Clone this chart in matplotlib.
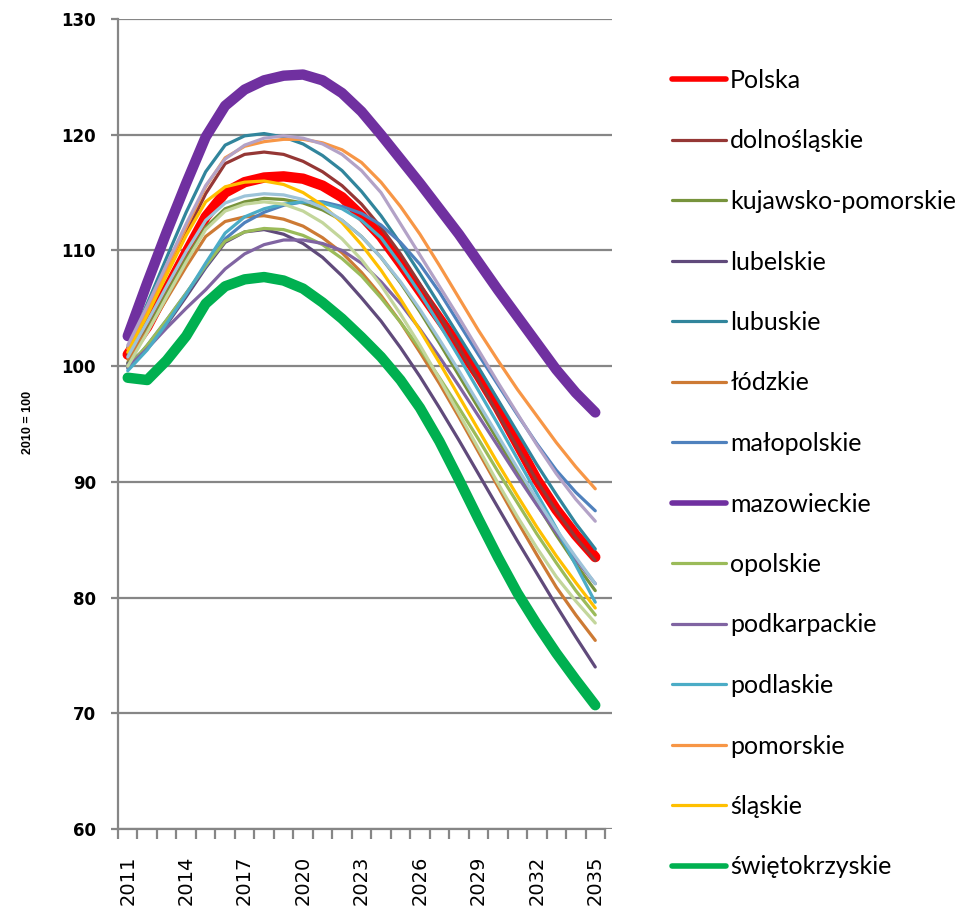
import matplotlib.pyplot as plt
from matplotlib.ticker import MultipleLocator

# lata projekcji (2010 = 100)
lata = list(range(2011, 2036))

polska = [101.0, 103.4, 106.6, 109.8, 112.9, 115.0, 115.9, 116.3, 116.4, 116.2, 115.6, 114.6, 113.0,
          111.2, 108.9, 106.5, 104.1, 101.7, 99.2, 96.4, 93.3, 90.2, 87.6, 85.4, 83.5]
dolnoslaskie = [101.0, 104.5, 108.0, 111.5, 114.9, 117.5, 118.3, 118.5, 118.3, 117.7, 116.8, 115.6, 114.0,
                112.0, 109.7, 107.1, 104.4, 101.6, 98.8, 95.9, 93.0, 90.1, 87.5, 85.2, 83.2]
kujawsko_pomorskie = [100.3, 103.2, 106.3, 109.3, 112.0, 113.6, 114.2, 114.5, 114.4, 114.1, 113.5, 112.6, 111.2,
                      109.4, 107.2, 104.7, 102.0, 99.2, 96.4, 93.6, 90.8, 88.1, 85.4, 82.9, 80.6]
lubelskie = [100.2, 101.6, 103.6, 106.0, 108.5, 110.7, 111.6, 111.8, 111.4, 110.6, 109.4, 107.8, 105.9,
             103.9, 101.6, 99.1, 96.4, 93.6, 90.7, 87.8, 84.9, 82.1, 79.3, 76.6, 74.0]
lubuskie = [101.6, 105.4, 109.4, 113.3, 116.8, 119.1, 119.9, 120.1, 119.8, 119.2, 118.2, 116.9, 115.1,
            113.0, 110.6, 108.0, 105.3, 102.6, 99.9, 97.1, 94.3, 91.5, 88.9, 86.4, 84.2]
lodzkie = [100.6, 103.0, 105.8, 108.6, 111.2, 112.5, 112.9, 113.0, 112.7, 112.1, 111.1, 109.8, 108.1,
           106.1, 103.8, 101.2, 98.5, 95.6, 92.6, 89.6, 86.6, 83.7, 80.9, 78.5, 76.3]
malopolskie = [99.8, 101.8, 104.0, 106.3, 108.6, 111.0, 112.4, 113.3, 113.9, 114.2, 114.2, 113.8, 113.2,
               112.2, 110.7, 108.8, 106.4, 103.7, 101.0, 98.4, 95.8, 93.3, 91.0, 89.1, 87.5]
mazowieckie = [102.6, 107.2, 111.6, 115.8, 119.8, 122.5, 123.9, 124.7, 125.1, 125.2, 124.7, 123.6, 122.0,
               120.0, 117.9, 115.8, 113.6, 111.4, 109.0, 106.6, 104.3, 102.0, 99.7, 97.7, 96.0]
opolskie = [99.9, 101.8, 104.0, 106.3, 108.7, 110.8, 111.6, 111.9, 111.8, 111.3, 110.5, 109.3, 107.8,
            105.9, 103.8, 101.5, 99.0, 96.4, 93.7, 90.9, 88.2, 85.5, 83.0, 80.6, 78.5]
podkarpackie = [99.9, 101.5, 103.3, 105.0, 106.6, 108.4, 109.7, 110.5, 110.9, 110.9, 110.6, 110.0, 108.9,
                107.3, 105.4, 103.2, 100.8, 98.3, 95.7, 93.1, 90.5, 88.0, 85.6, 83.3, 81.2]
podlaskie = [99.6, 101.4, 103.7, 106.2, 108.9, 111.5, 112.9, 113.6, 114.0, 114.2, 114.1, 113.6, 112.6,
             111.1, 108.8, 106.3, 103.6, 100.8, 97.9, 95.0, 92.0, 89.0, 86.0, 82.8, 79.6]
pomorskie = [101.5, 104.8, 108.4, 112.0, 115.5, 118.0, 119.0, 119.4, 119.6, 119.6, 119.3, 118.7, 117.6,
             115.9, 113.8, 111.4, 108.7, 105.9, 103.1, 100.5, 98.0, 95.7, 93.4, 91.3, 89.4]
slaskie = [101.2, 104.4, 107.9, 111.3, 114.2, 115.5, 115.9, 116.0, 115.7, 115.0, 113.9, 112.4, 110.5,
           108.3, 105.8, 103.1, 100.3, 97.4, 94.5, 91.6, 88.8, 86.1, 83.6, 81.3, 79.1]
swietokrzyskie = [99.0, 98.8, 100.5, 102.6, 105.4, 106.9, 107.5, 107.7, 107.4, 106.7, 105.5, 104.1, 102.5,
                  100.8, 98.8, 96.4, 93.5, 90.2, 86.8, 83.5, 80.4, 77.7, 75.2, 72.9, 70.7]
# serie bez wpisu w legendzie (legenda w oryginale ucięta)
warminsko_mazurskie = [101.8, 105.2, 108.8, 112.3, 115.6, 117.9, 119.1, 119.7, 119.9, 119.7, 119.2, 118.3, 116.9,
                       115.0, 112.3, 109.6, 106.9, 104.2, 101.4, 98.6, 95.9, 93.2, 90.7, 88.5, 86.6]
wielkopolskie = [100.8, 103.8, 106.9, 109.9, 112.6, 114.1, 114.7, 114.9, 114.8, 114.4, 113.7, 112.6, 111.2,
                 109.4, 107.3, 104.9, 102.3, 99.6, 96.8, 94.0, 91.2, 88.5, 85.9, 83.5, 81.2]
zachodniopomorskie = [100.0, 102.9, 106.0, 109.0, 111.8, 113.4, 114.0, 114.2, 114.0, 113.4, 112.4, 111.0, 109.2,
                      107.0, 104.5, 101.8, 98.9, 95.9, 92.9, 89.9, 87.0, 84.3, 81.8, 79.7, 77.8]

serie = [
    ('Polska', polska, '#FF0000', True),
    ('dolnośląskie', dolnoslaskie, '#953735', False),
    ('kujawsko-pomorskie', kujawsko_pomorskie, '#77933C', False),
    ('lubelskie', lubelskie, '#604A7B', False),
    ('lubuskie', lubuskie, '#31859C', False),
    ('łódzkie', lodzkie, '#CD7A34', False),
    ('małopolskie', malopolskie, '#4F81BD', False),
    ('mazowieckie', mazowieckie, '#7030A0', True),
    ('opolskie', opolskie, '#9BBB59', False),
    ('podkarpackie', podkarpackie, '#8064A2', False),
    ('podlaskie', podlaskie, '#4BACC6', False),
    ('pomorskie', pomorskie, '#F79646', False),
    ('śląskie', slaskie, '#FFC000', False),
    ('świętokrzyskie', swietokrzyskie, '#00B050', True),
    ('_warmińsko-mazurskie', warminsko_mazurskie, '#B3A2C7', False),
    ('_wielkopolskie', wielkopolskie, '#9DC3D9', False),
    ('_zachodniopomorskie', zachodniopomorskie, '#C3D69B', False),
]

szary = '#868686'

fig = plt.figure(figsize=(9.65, 9.10), dpi=100)
ax = fig.add_axes([118 / 965, 1 - 829 / 910, (612 - 118) / 965, (829 - 19) / 910])

for nazwa, wartosci, kolor, gruba in serie:
    ax.plot(lata, wartosci, color=kolor, lw=7.5 if gruba else 2.3, label=nazwa,
            solid_capstyle='round', solid_joinstyle='round')

# siatka sięga nieco dalej niż oś kategorii
ax.set_xlim(2010.5, 2010.5 + (612 - 118) / 19.48)
ax.set_ylim(60, 130)
ax.yaxis.set_major_locator(MultipleLocator(10))
ax.grid(axis='y', color=szary, lw=1.6)
ax.set_axisbelow(True)

for s in ['top', 'right']:
    ax.spines[s].set_visible(False)
for s in ['left', 'bottom']:
    ax.spines[s].set_color(szary)
    ax.spines[s].set_linewidth(1.6)
ax.spines['bottom'].set_bounds(2010.5, 2035.5)

ax.tick_params(axis='y', colors=szary, length=5, width=1.6, pad=11, labelcolor='black')
for t in ax.get_yticklabels():
    t.set_fontsize(12)
    t.set_fontweight('bold')

ax.set_xticks(lata[::3])
ax.set_xticklabels([str(r) for r in lata[::3]], rotation=90, fontsize=14)
ax.set_xticks([r - 0.5 for r in lata] + [2035.5], minor=True)
ax.tick_params(axis='x', which='major', length=0, pad=19)
ax.tick_params(axis='x', which='minor', length=7, width=1.6, colors=szary)

fig.text(28 / 965, 1 - 422 / 910, '2010 = 100', rotation=90, ha='center', va='center',
         fontsize=9, fontweight='bold', family='Liberation Sans')

uchwyty = [l for l in ax.get_lines() if not l.get_label().startswith('_')]
leg = fig.legend(handles=uchwyty, loc='upper left', bbox_to_anchor=(672 / 965, 1 - 69 / 910),
                 frameon=False, borderpad=0, borderaxespad=0, handlelength=2.15, handletextpad=0.18,
                 labelspacing=1.5, prop={'family': 'Lato', 'size': 18})
for l in leg.get_lines():
    l.set_linewidth(4 if l.get_linewidth() > 5 else 2.3)

fig.savefig('out.png', dpi=100)
